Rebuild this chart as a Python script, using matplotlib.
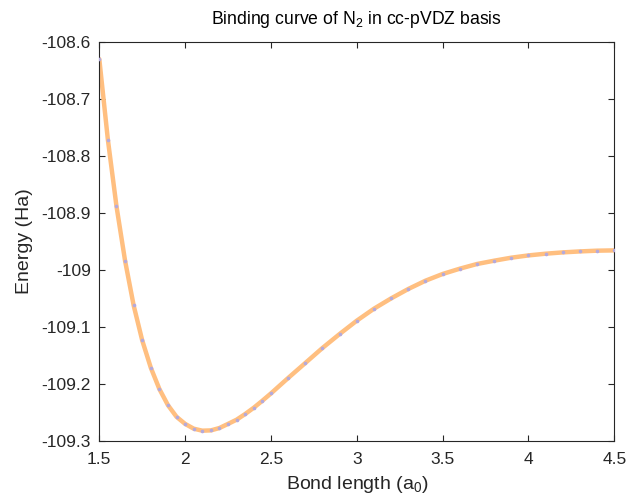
import matplotlib
matplotlib.use("Agg")
import matplotlib.pyplot as plt

# bond lengths (a0) and energies (Ha)
bond_length = [1.50, 1.55, 1.60, 1.65, 1.70, 1.75, 1.80, 1.85, 1.90, 1.95,
               2.00, 2.05, 2.10, 2.15, 2.20, 2.25, 2.30, 2.35, 2.40, 2.45,
               2.50, 2.6, 2.7, 2.8, 2.9, 3.0, 3.1, 3.2, 3.3, 3.4,
               3.5, 3.6, 3.7, 3.8, 3.9, 4.0, 4.1, 4.2, 4.3, 4.4, 4.5]
energy = [-108.6300, -108.7715, -108.8880, -108.9835, -109.0620,
          -109.1235, -109.1714, -109.2088, -109.2372, -109.2576,
          -109.2700, -109.2784, -109.2819, -109.2814, -109.2772,
          -109.2700, -109.2626, -109.2526, -109.2416, -109.2293,
          -109.2165, -109.1895, -109.1632, -109.1368, -109.1123,
          -109.0889, -109.0679, -109.0498, -109.0333, -109.0188,
          -109.0070, -108.9977, -108.9895, -108.9837, -108.9784,
          -108.9744, -108.9714, -108.9691, -108.9674, -108.9661,
          -108.9656]

x_ticks = [1.5, 2, 2.5, 3, 3.5, 4, 4.5]
x_tick_labels = ["1.5", "2", "2.5", "3", "3.5", "4", "4.5"]
y_ticks = [-108.6, -108.7, -108.8, -108.9, -109.0, -109.1, -109.2, -109.3]
y_tick_labels = ["-108.6", "-108.7", "-108.8", "-108.9", "-109",
                 "-109.1", "-109.2", "-109.3"]

plt.rcParams["font.family"] = ["Liberation Sans", "DejaVu Sans"]
plt.rcParams["mathtext.fontset"] = "custom"
plt.rcParams["mathtext.rm"] = "Liberation Sans"
plt.rcParams["mathtext.it"] = "Liberation Sans:italic"
axis_grey = "#262626"

fig = plt.figure(figsize=(6.36, 5.01), dpi=100)
ax = fig.add_axes([99.3 / 636, 1 - 441 / 501, 515 / 636, 399 / 501])

ax.plot(bond_length, energy, color="#ffbf80", linewidth=3.2,
        solid_capstyle="round", zorder=2)
ax.plot(bond_length, energy, linestyle="none", marker="o", markersize=2.6,
        markeredgewidth=0, color="#b3a9dd", zorder=3)

ax.set_xlim(1.5, 4.5)
ax.set_ylim(-109.3, -108.6)
ax.set_xticks(x_ticks)
ax.set_xticklabels(x_tick_labels)
ax.set_yticks(y_ticks)
ax.set_yticklabels(y_tick_labels)

ax.tick_params(direction="in", length=4, width=0.8, colors=axis_grey,
               labelsize=12.5, top=True, right=True)
ax.tick_params(axis="x", pad=8)
ax.tick_params(axis="y", pad=6)
for side in ax.spines.values():
    side.set_color(axis_grey)
    side.set_linewidth(0.8)

ax.set_title("Binding curve of N$_\\mathrm{2}$ in cc-pVDZ basis",
             fontsize=12.7, color="black", pad=13)
ax.set_xlabel("Bond length (a$_\\mathrm{0}$)", fontsize=14, color=axis_grey,
              labelpad=5)
ax.set_ylabel("Energy (Ha)", fontsize=14, color=axis_grey, labelpad=6)

plt.savefig("out.png", dpi=100)
plt.close()
